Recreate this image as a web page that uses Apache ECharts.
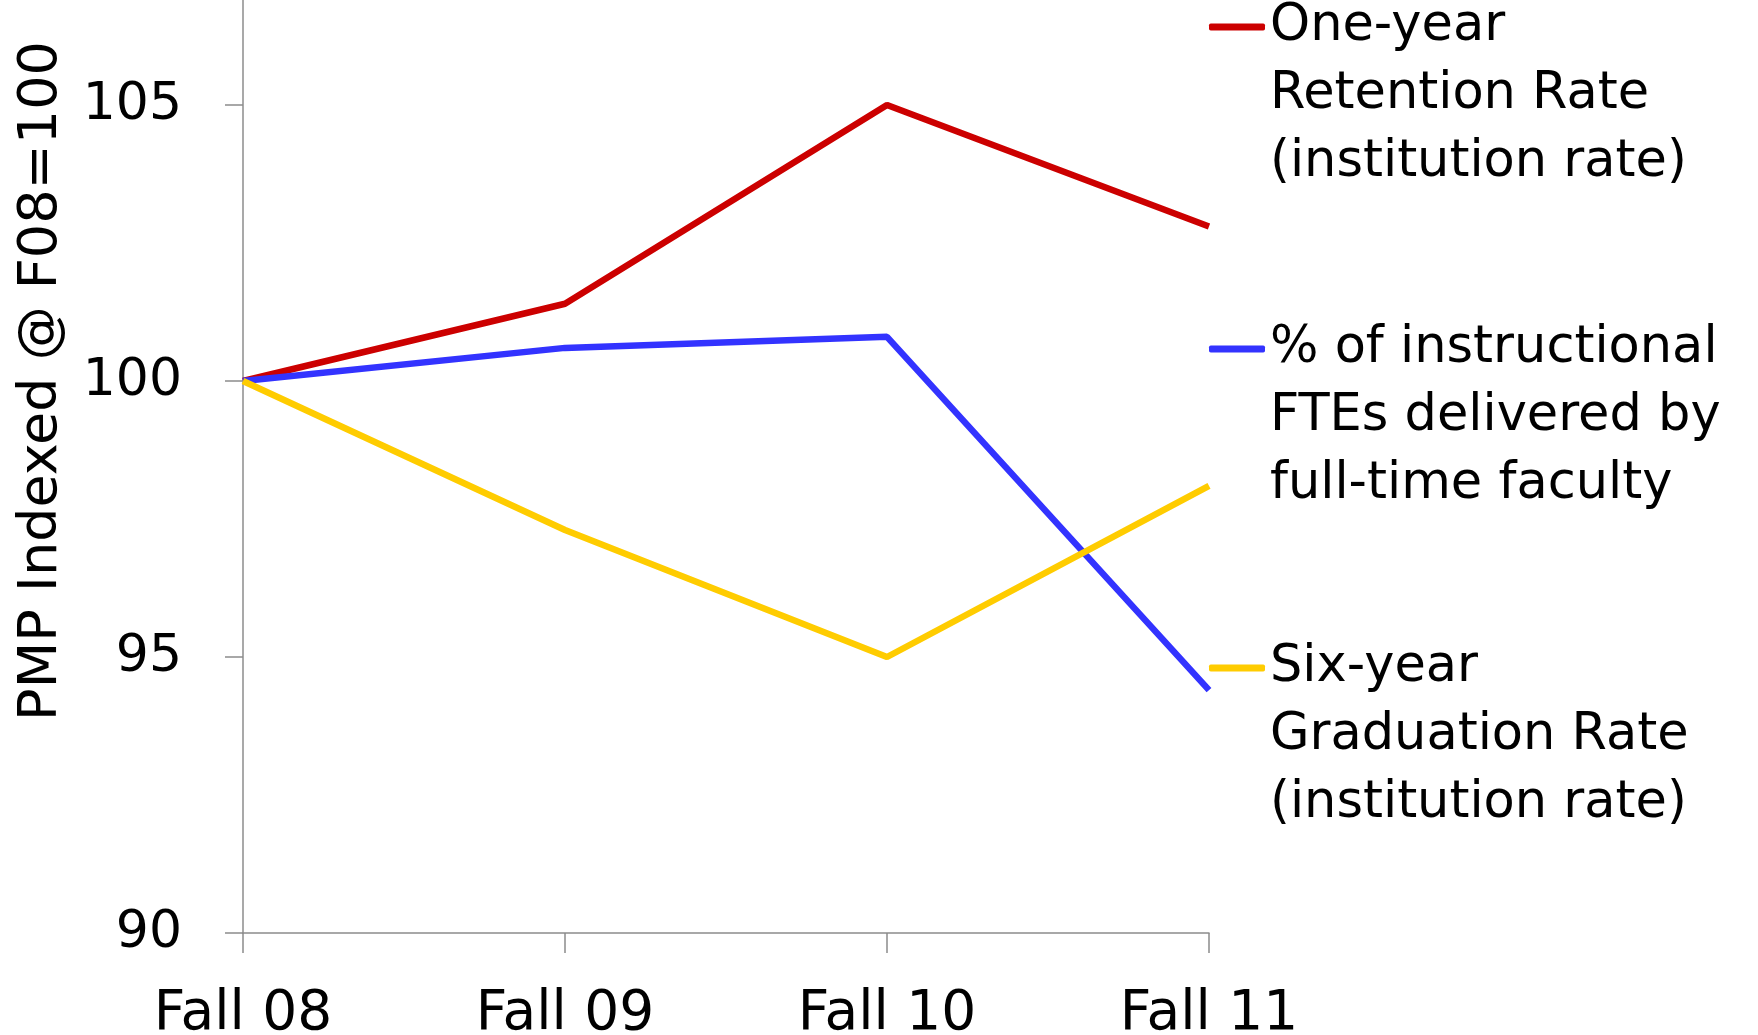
<!DOCTYPE html>
<html>
<head>
<meta charset="utf-8">
<title>PMP Indexed</title>
<script src="https://cdn.jsdelivr.net/npm/echarts@6/dist/echarts.min.js"></script>
<style>
  html, body { margin: 0; padding: 0; background: #fff; }
  #chart { width: 1758px; height: 1035px; }
</style>
</head>
<body>
<div id="chart"></div>
<script>
const categories = ['Fall 08', 'Fall 09', 'Fall 10', 'Fall 11']
const retention = [100, 101.4, 105.0, 102.8]
const instructional = [100, 100.6, 100.8, 94.4]
const graduation = [100, 97.3, 95.0, 98.1]

const seriesNames = [
  'One-year\nRetention Rate\n(institution rate)',
  '% of instructional\nFTEs delivered by\nfull-time faculty',
  'Six-year\nGraduation Rate\n(institution rate)'
]
const colors = ['#cc0000', '#3333ff', '#ffcc00']

const fontFamily = 'DejaVu Sans'
const axisColor = '#8c8c8c'

// each legend sits on its own so the swatch lines up with the first text line
function makeLegend(name, top) {
  return {
    data: [{ name, icon: 'roundRect' }],
    left: 1209,
    top: top,
    padding: 0,
    orient: 'vertical',
    itemWidth: 56,
    itemHeight: 7,
    selectedMode: false,
    // two blank lines above put the swatch level with the first real line
    formatter: n => '\n\n' + n,
    textStyle: {
      fontFamily,
      fontSize: 51,
      lineHeight: 68,
      color: '#000'
    }
  }
}

function makeSeries(name, data, color) {
  return {
    name,
    type: 'line',
    data,
    symbol: 'none',
    lineStyle: { width: 6.5, color },
    itemStyle: { color },
    animation: false
  }
}

const chart = echarts.init(document.getElementById('chart'))
chart.setOption({
  grid: {
    left: 243,
    right: 549,
    top: -171,
    bottom: 102,
    outerBoundsMode: 'none'
  },
  legend: [
    makeLegend(seriesNames[0], -143),
    makeLegend(seriesNames[1], 179),
    makeLegend(seriesNames[2], 498)
  ],
  xAxis: {
    type: 'category',
    data: categories,
    boundaryGap: false,
    axisLine: { lineStyle: { color: axisColor, width: 1.5 } },
    axisTick: { alignWithLabel: true, length: 20, lineStyle: { color: axisColor, width: 1.5 } },
    axisLabel: { fontFamily, fontSize: 55, color: '#000', margin: 54 },
    splitLine: { show: false }
  },
  yAxis: {
    type: 'value',
    min: 90,
    max: 110,
    interval: 5,
    name: 'PMP Indexed @ F08=100',
    nameLocation: 'middle',
    nameGap: 174,
    nameTextStyle: { fontFamily, fontSize: 54, color: '#000' },
    axisLine: { show: true, lineStyle: { color: axisColor, width: 1.5 } },
    axisTick: { show: true, length: 18, lineStyle: { color: axisColor, width: 1.5 } },
    axisLabel: { fontFamily, fontSize: 52, color: '#000', margin: 61 },
    splitLine: { show: false }
  },
  series: [
    makeSeries(seriesNames[0], retention, colors[0]),
    makeSeries(seriesNames[1], instructional, colors[1]),
    makeSeries(seriesNames[2], graduation, colors[2])
  ]
})
</script>
</body>
</html>
